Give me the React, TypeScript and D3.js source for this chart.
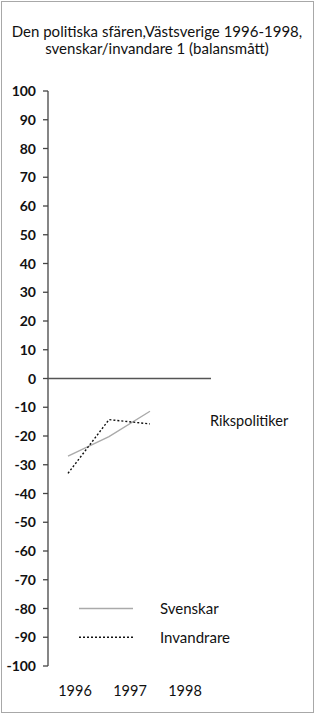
import { useMemo } from "react";
import * as d3 from "d3";

const years = [1996, 1997, 1998];
const svenskar = [-27, -20.2, -11.4];
const invandrare = [-33, -14.3, -15.8];
const yTicks = [100, 90, 80, 70, 60, 50, 40, 30, 20, 10, 0, -10, -20, -30, -40, -50, -60, -70, -80, -90, -100];
const titleLines = ["Den politiska sfären,Västsverige 1996-1998,", "svenskar/invandare 1 (balansmått)"];
const seriesLabel = "Rikspolitiker";
const legendItems = [
    { name: "Svenskar", at: -80 },
    { name: "Invandrare", at: -90 },
];

const WIDTH = 316;
const HEIGHT = 714;
const FONT = "Lato, 'Open Sans', sans-serif";

const App = () => {
    const y = useMemo(() => d3.scaleLinear().domain([-100, 100]).range([666, 91]), []);
    // the data points and the year labels do not share spacing in the original
    const xData = useMemo(() => d3.scaleLinear().domain([1996, 1998]).range([68, 150]), []);
    const xLabel = useMemo(() => d3.scaleLinear().domain([1996, 1998]).range([75, 185]), []);

    const line = d3
        .line<number>()
        .x((_, i) => xData(years[i]))
        .y((d) => y(d));

    const axisX = 48;

    return (
        <svg
            width={WIDTH}
            height={HEIGHT}
            style={{ position: "absolute", left: 0, top: 0, display: "block" }}
            fontFamily={FONT}
        >
            <rect x={1.5} y={1.5} width={312} height={711} fill="white" stroke="#a8a8a8" strokeWidth={1} />

            {titleLines.map((t, i) => (
                <text key={i} x={157} y={37 + i * 17} textAnchor="middle" fontSize={15} fill="#111">
                    {t}
                </text>
            ))}

            {/* y axis */}
            <line x1={axisX} x2={axisX} y1={y(100)} y2={y(-100)} stroke="#444" strokeWidth={1.3} />
            {yTicks.map((t) => (
                <g key={t}>
                    <line x1={axisX - 5} x2={axisX} y1={y(t)} y2={y(t)} stroke="#444" strokeWidth={1.3} />
                    <text x={36} y={y(t)} dy="0.36em" textAnchor="end" fontSize={14} fontWeight={700} fill="#111">
                        {t}
                    </text>
                </g>
            ))}

            {/* zero line */}
            <line x1={axisX} x2={211} y1={y(0)} y2={y(0)} stroke="#555" strokeWidth={1.3} />

            {/* series */}
            <path d={line(svenskar) || undefined} fill="none" stroke="#aaaaaa" strokeWidth={1.4} />
            <path d={line(invandrare) || undefined} fill="none" stroke="#111" strokeWidth={1.4} strokeDasharray="2,2" />

            <text x={210} y={426} fontSize={14.5} fill="#111">
                {seriesLabel}
            </text>

            {/* legend */}
            {legendItems.map((d, i) => (
                <g key={d.name}>
                    <line
                        x1={79}
                        x2={133}
                        y1={y(d.at)}
                        y2={y(d.at)}
                        stroke={i === 0 ? "#aaaaaa" : "#111"}
                        strokeWidth={1.4}
                        strokeDasharray={i === 0 ? undefined : "2,2"}
                    />
                    <text x={160} y={y(d.at)} dy="0.35em" fontSize={15} fill="#111">
                        {d.name}
                    </text>
                </g>
            ))}

            {/* year labels */}
            {years.map((yr) => (
                <text key={yr} x={xLabel(yr)} y={696} textAnchor="middle" fontSize={14.5} fill="#111">
                    {yr}
                </text>
            ))}
        </svg>
    );
};

export default App;
